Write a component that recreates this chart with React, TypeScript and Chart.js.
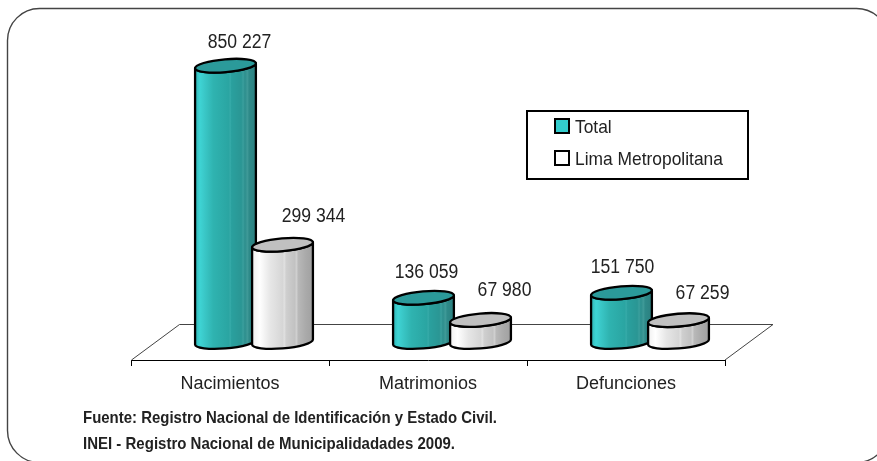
import React, { useEffect, useRef } from "react";
import { Chart, registerables } from "chart.js";

Chart.register(...registerables);

const categories = ["Nacimientos", "Matrimonios", "Defunciones"];
const totalValues = [850227, 136059, 151750];
const limaValues = [299344, 67980, 67259];
const seriesNames = ["Total", "Lima Metropolitana"];
const footerLines = [
  "Fuente: Registro Nacional de Identificación y Estado Civil.",
  "INEI - Registro Nacional de Municipalidadades 2009.",
];

const FONT = '"Liberation Sans", Arial, sans-serif';
const TEAL_STOPS: [number, string][] = [
  [0, "#2fb4b4"], [0.08, "#3ed4d4"], [0.14, "#3bcaca"], [0.3, "#2fb3b0"], [0.55, "#2aa5a2"],
  [0.58, "#35aaa8"], [0.6, "#2aa09e"], [0.76, "#2a9694"], [0.79, "#3a9f9d"], [0.82, "#2c8e8d"],
  [0.86, "#3f9a98"], [0.89, "#2e8a89"], [1, "#2c8080"],
];
const WHITE_STOPS: [number, string][] = [
  [0, "#f0f0f0"], [0.12, "#ffffff"], [0.3, "#e6e6e6"], [0.5, "#d6d6d6"], [0.53, "#e0e0e0"],
  [0.56, "#cfcfcf"], [0.7, "#c2c2c2"], [0.73, "#cfcfcf"], [0.76, "#b8b8b8"], [0.88, "#aaaaaa"], [1, "#a0a0a0"],
];
const TOP_COLORS = ["#2b9a9a", "#c0c0c0"];
const LEGEND_FILLS = ["#33cccc", "#ffffff"];
// label placement relative to the cylinder top
const LABEL_DX = [[14, 3, 1], [31, 24, 24]];
const LABEL_DY = [[-23, -25, -25], [-28, -29, -27]];

const DEPTH_X = 48;
const DEPTH_Y = 36;
const SHIFT_X = 24;
const SHIFT_Y = -18;
const TILT = -0.085;

function squeezedText(ctx: any, text: string, x: number, y: number, size: number, nominal: number) {
  ctx.font = `${nominal}px ${FONT}`;
  const w = ctx.measureText(text).width;
  ctx.font = `${size}px ${FONT}`;
  ctx.fillText(text, x, y, w);
}

const cylinders = {
  id: "cylinders",
  beforeDraw(chart: any) {
    const { ctx, width, height } = chart;
    ctx.save();
    ctx.fillStyle = "#ffffff";
    ctx.fillRect(0, 0, width, height);
    ctx.strokeStyle = "#444444";
    ctx.lineWidth = 1.4;
    ctx.beginPath();
    ctx.roundRect(7.5, 8.5, 881, 454, 32);
    ctx.stroke();
    ctx.restore();
  },
  beforeDatasetsDraw(chart: any) {
    const { ctx, chartArea: a } = chart;
    ctx.save();
    ctx.lineWidth = 1;
    ctx.strokeStyle = "#444444";
    ctx.beginPath();
    ctx.moveTo(a.left + 0.5, a.bottom);
    ctx.lineTo(a.left + DEPTH_X + 0.5, a.bottom - DEPTH_Y + 0.5);
    ctx.lineTo(a.right + DEPTH_X, a.bottom - DEPTH_Y + 0.5);
    ctx.lineTo(a.right, a.bottom);
    ctx.stroke();
    ctx.restore();
  },
  afterDatasetsDraw(chart: any) {
    const { ctx } = chart;
    const order: [number, number][] = [];
    categories.forEach((_, i) => { order.push([0, i]); order.push([1, i]); });
    order.forEach(([ds, i]) => {
      const el = chart.getDatasetMeta(ds).data[i];
      const cx = el.x + SHIFT_X;
      const ty = el.y + SHIFT_Y;
      const by = el.base + SHIFT_Y;
      const a = el.width / 2 + 2;
      const b = 6.4;
      const t0 = Math.atan(-(b / a) * Math.tan(TILT));
      const xr = a * Math.cos(t0) * Math.cos(TILT) - b * Math.sin(t0) * Math.sin(TILT);
      ctx.save();
      const g = ctx.createLinearGradient(cx - xr, 0, cx + xr, 0);
      (ds === 0 ? TEAL_STOPS : WHITE_STOPS).forEach(([p, c]) => g.addColorStop(p, c));
      ctx.beginPath();
      ctx.ellipse(cx, by, a, b, TILT, t0 + Math.PI, t0, true);
      ctx.ellipse(cx, ty, a, b, TILT, t0, t0 + Math.PI, false);
      ctx.closePath();
      ctx.fillStyle = g;
      ctx.fill();
      ctx.strokeStyle = "#000000";
      ctx.lineWidth = 2.3;
      ctx.lineJoin = "round";
      ctx.stroke();
      ctx.beginPath();
      ctx.ellipse(cx, ty, a, b, TILT, 0, Math.PI * 2);
      ctx.fillStyle = TOP_COLORS[ds];
      ctx.fill();
      ctx.stroke();
      ctx.restore();
    });
  },
  afterDraw(chart: any) {
    const { ctx } = chart;
    ctx.save();
    ctx.textAlign = "center";
    ctx.textBaseline = "middle";
    ctx.fillStyle = "#222222";
    chart.data.datasets.forEach((d: any, ds: number) => {
      d.data.forEach((v: number, i: number) => {
        const el = chart.getDatasetMeta(ds).data[i];
        const s = String(v).replace(/(\d)(\d{3})$/, "$1 $2");
        squeezedText(ctx, s, el.x + SHIFT_X + LABEL_DX[ds][i], el.y + SHIFT_Y + LABEL_DY[ds][i], 19.5, 17.6);
      });
    });
    // legend
    ctx.strokeStyle = "#000000";
    ctx.lineWidth = 2;
    ctx.fillStyle = "#ffffff";
    ctx.fillRect(527, 111, 221, 68);
    ctx.strokeRect(527, 111, 221, 68);
    ctx.textAlign = "left";
    chart.data.datasets.forEach((d: any, ds: number) => {
      const y = 126 + ds * 32;
      ctx.fillStyle = LEGEND_FILLS[ds];
      ctx.fillRect(555, y - 7, 14, 14);
      ctx.strokeRect(555, y - 7, 14, 14);
      ctx.fillStyle = "#222222";
      squeezedText(ctx, d.label, 575, y + 2, 19, 17.4);
    });
    // source note
    ctx.font = `bold 16.5px ${FONT}`;
    ctx.fillStyle = "#222222";
    ctx.fillText(footerLines[0], 83, 418, 414);
    ctx.fillText(footerLines[1], 83, 444, 372);
    ctx.restore();
  },
};

export default function App() {
  const ref = useRef<HTMLCanvasElement>(null);
  useEffect(() => {
    const chart = new Chart(ref.current!, {
      type: "bar",
      plugins: [cylinders],
      data: {
        labels: categories,
        datasets: [
          { label: seriesNames[0], data: totalValues, backgroundColor: "rgba(0,0,0,0)", borderWidth: 0 },
          { label: seriesNames[1], data: limaValues, backgroundColor: "rgba(0,0,0,0)", borderWidth: 0 },
        ],
      },
      options: {
        responsive: false,
        animation: false,
        layout: { padding: { left: 131, right: 152, top: 35, bottom: 0 } },
        plugins: { legend: { display: false }, tooltip: { enabled: false } },
        datasets: { bar: { categoryPercentage: 0.576, barPercentage: 1 } },
        scales: {
          x: {
            border: { display: true, color: "#000000", width: 1 },
            grid: { display: true, drawOnChartArea: false, drawTicks: true, tickLength: 6, color: "#000000" },
            ticks: {
              color: "#222222",
              font: { family: FONT, size: 18 },
              padding: 7,
              maxRotation: 0,
            },
            afterFit: (s: any) => { s.height = 101; },
          },
          y: { display: false, min: 0, max: 1000000 },
        },
      } as any,
    });
    return () => chart.destroy();
  }, []);
  return (
    <canvas
      ref={ref}
      width={877}
      height={461}
      style={{ position: "absolute", left: 0, top: 0, display: "block" }}
    />
  );
}
